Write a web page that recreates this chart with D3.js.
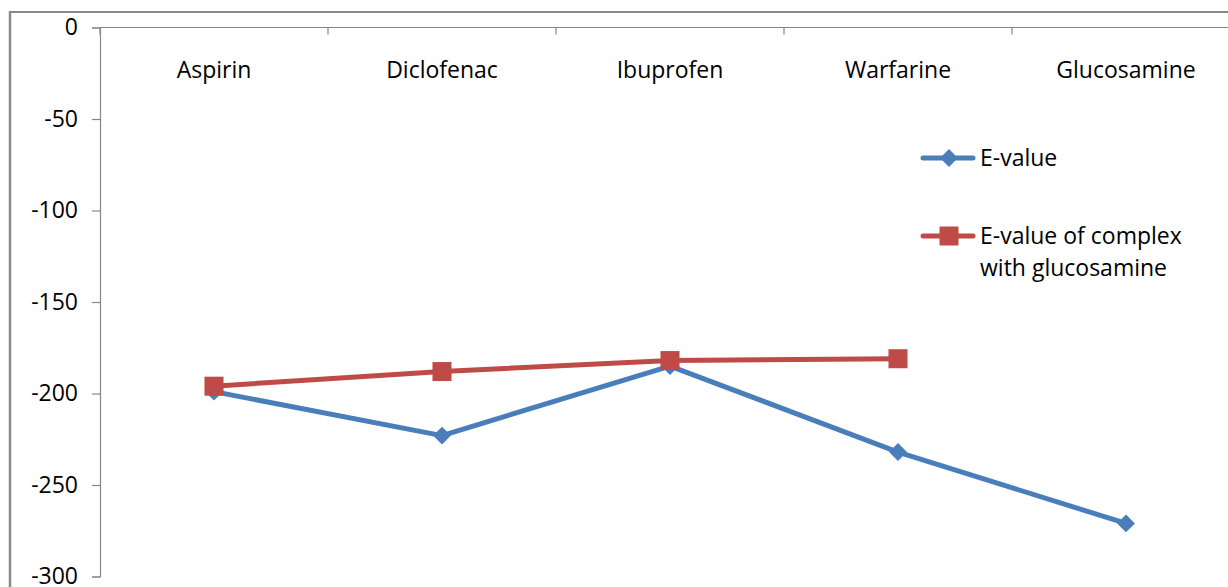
<!DOCTYPE html>
<html>
<head>
<meta charset="utf-8">
<script src="https://cdn.jsdelivr.net/npm/d3@7"></script>
<style>
  html, body { margin: 0; padding: 0; background: #fff; }
  svg { display: block; font-family: "Open Sans", Lato, sans-serif; }
</style>
</head>
<body>
<svg id="chart" width="1228" height="587"></svg>
<script>
// Drugs along the category axis
const categories = ["Aspirin", "Diclofenac", "Ibuprofen", "Warfarine", "Glucosamine"];
// Docking energies
const eValue = [-199, -223, -185, -232, -271];
const eValueComplex = [-196, -188, -182, -181, null];
const yTicks = [0, -50, -100, -150, -200, -250, -300];
const seriesNames = ["E-value", "E-value of complex with glucosamine"];

const svg = d3.select("#chart");
const W = 1228, H = 587;
const plotLeft = 100, plotTop = 27.5, plotBottom = 576.5;
const band = 228;
const fontFamily = "'Open Sans', Lato, sans-serif";
const fontSize = 23;

const x = d3.scaleBand().domain(categories).range([plotLeft, plotLeft + band * categories.length]).paddingInner(0).paddingOuter(0);
const y = d3.scaleLinear().domain([0, -300]).range([plotTop, plotBottom]);

const axisColor = "#868686";

// outer chart frame
svg.append("line").attr("x1", 10).attr("x2", W).attr("y1", 12).attr("y2", 12)
  .attr("stroke", "#8a8a8a").attr("stroke-width", 2);
svg.append("line").attr("x1", 10).attr("x2", 10).attr("y1", 11).attr("y2", H)
  .attr("stroke", "#8a8a8a").attr("stroke-width", 2.5);

// value axis
const yAxis = svg.append("g").attr("transform", `translate(${plotLeft},0)`)
  .call(d3.axisLeft(y).tickValues(yTicks).tickSize(8).tickPadding(14).tickFormat(d3.format("d")));
yAxis.select(".domain").attr("stroke", axisColor).attr("stroke-width", 1.2);
yAxis.selectAll(".tick line").attr("stroke", axisColor).attr("stroke-width", 1.2);
yAxis.selectAll(".tick text").attr("font-size", fontSize).attr("fill", "#000")
  .attr("font-family", fontFamily);
yAxis.selectAll(".tick text").text(d => d === 0 ? "0" : "-" + Math.abs(d));

// category axis across the top, ticks pointing into the plot
const catEdges = categories.map(c => x(c));
svg.append("line").attr("x1", plotLeft).attr("x2", W).attr("y1", plotTop).attr("y2", plotTop)
  .attr("stroke", axisColor).attr("stroke-width", 1.2);
svg.append("g").selectAll("line").data(catEdges).join("line")
  .attr("x1", d => d).attr("x2", d => d)
  .attr("y1", plotTop).attr("y2", plotTop + 7)
  .attr("stroke", axisColor).attr("stroke-width", 1.2);

svg.append("g").selectAll("text").data(categories).join("text")
  .attr("x", d => x(d) + x.bandwidth() / 2)
  .attr("y", 78)
  .attr("text-anchor", "middle")
  .attr("font-size", fontSize)
  .attr("font-family", fontFamily)
  .attr("fill", "#000")
  .text(d => d);

const cx = d => x(d) + x.bandwidth() / 2;
const blue = "#4a7ebb", red = "#be4b48";

const line = d3.line().defined(d => d.v !== null).x(d => cx(d.c)).y(d => y(d.v));
const s1 = categories.map((c, i) => ({ c, v: eValue[i] }));
const s2 = categories.map((c, i) => ({ c, v: eValueComplex[i] }));

// E-value series
svg.append("path").datum(s1).attr("d", line).attr("fill", "none")
  .attr("stroke", blue).attr("stroke-width", 5).attr("stroke-linejoin", "round");
svg.append("g").selectAll("path").data(s1.filter(d => d.v !== null)).join("path")
  .attr("transform", d => `translate(${cx(d.c)},${y(d.v)}) rotate(45)`)
  .attr("d", d3.symbol().type(d3.symbolSquare).size(160)())
  .attr("fill", blue);

// complex series
svg.append("path").datum(s2.filter(d => d.v !== null)).attr("d", line).attr("fill", "none")
  .attr("stroke", red).attr("stroke-width", 5).attr("stroke-linejoin", "round");
svg.append("g").selectAll("rect").data(s2.filter(d => d.v !== null)).join("rect")
  .attr("x", d => cx(d.c) - 9.5).attr("y", d => y(d.v) - 9.5)
  .attr("width", 19).attr("height", 19).attr("fill", red);

// legend
const legend = svg.append("g");
const legendRows = [
  { name: seriesNames[0], color: blue, marker: "diamond", y: 158, lines: ["E-value"] },
  { name: seriesNames[1], color: red, marker: "square", y: 236, lines: ["E-value of complex", "with glucosamine"] }
];
legendRows.forEach(r => {
  legend.append("line").attr("x1", 923).attr("x2", 973).attr("y1", r.y).attr("y2", r.y)
    .attr("stroke", r.color).attr("stroke-width", 5).attr("stroke-linecap", "round");
  if (r.marker === "diamond") {
    legend.append("path").attr("transform", `translate(949,${r.y}) rotate(45)`)
      .attr("d", d3.symbol().type(d3.symbolSquare).size(160)()).attr("fill", r.color);
  } else {
    legend.append("rect").attr("x", 949 - 9.5).attr("y", r.y - 9.5).attr("width", 19).attr("height", 19).attr("fill", r.color);
  }
  const t = legend.append("text").attr("x", 980).attr("y", r.y + 8).attr("font-size", fontSize)
    .attr("font-family", fontFamily).attr("fill", "#000");
  r.lines.forEach((ln, i) => t.append("tspan").attr("x", 980).attr("dy", i === 0 ? 0 : 32).text(ln));
});
</script>
</body>
</html>
